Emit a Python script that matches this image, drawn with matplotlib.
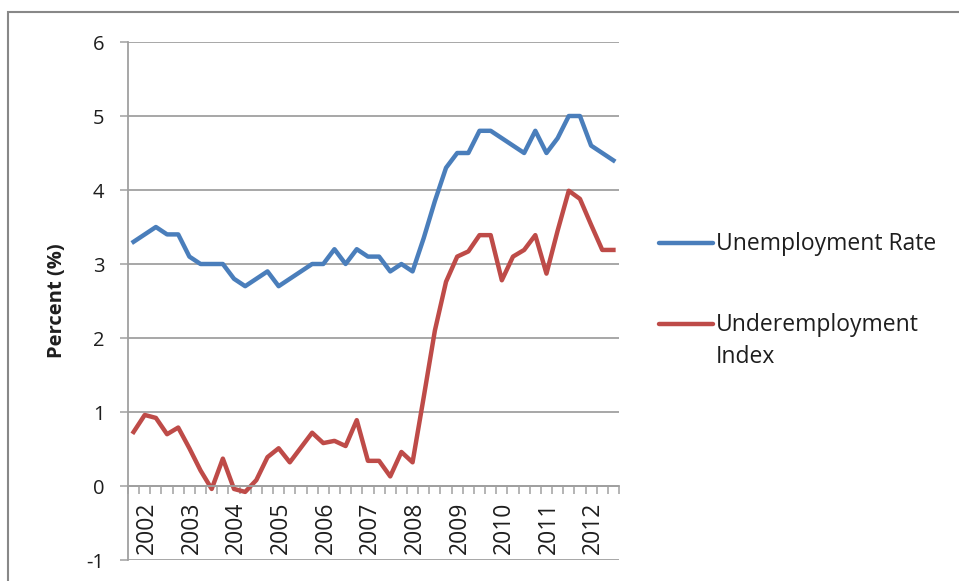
import numpy as np
import matplotlib
matplotlib.use("Agg")
import matplotlib.pyplot as plt
from matplotlib.lines import Line2D
from matplotlib.patches import Rectangle

# quarterly data, 2001Q4 .. 2012Q3
unemployment = [3.3, 3.4, 3.5, 3.4, 3.4, 3.1, 3.0, 3.0, 3.0, 2.8, 2.7,
                2.8, 2.9, 2.7, 2.8, 2.9, 3.0, 3.0, 3.2, 3.0, 3.2, 3.1,
                3.1, 2.9, 3.0, 2.9, 3.35, 3.85, 4.3, 4.5, 4.5, 4.8, 4.8,
                4.7, 4.6, 4.5, 4.8, 4.5, 4.7, 5.0, 5.0, 4.6, 4.5, 4.4]
underemployment = [0.73, 0.96, 0.92, 0.70, 0.79, 0.51, 0.21, -0.04, 0.37,
                   -0.04, -0.08, 0.08, 0.39, 0.51, 0.32, 0.52, 0.72, 0.58,
                   0.61, 0.54, 0.89, 0.34, 0.34, 0.13, 0.46, 0.32, 1.2,
                   2.1, 2.76, 3.1, 3.17, 3.39, 3.39, 2.78, 3.1, 3.19, 3.39,
                   2.87, 3.45, 3.99, 3.88, 3.53, 3.19, 3.19]
years = [str(y) for y in range(2002, 2013)]
year_pos = [1 + 4 * k for k in range(len(years))]  # Q1 of each year

blue = "#4a7ebb"
red = "#be4b48"
grid_col = "#a0a0a0"
txt_col = "#1e1e1e"

plt.rcParams['font.family'] = ['Open Sans', 'DejaVu Sans']
plt.rcParams['axes.unicode_minus'] = False

fig = plt.figure(figsize=(9.59, 5.81), dpi=100)
ax = fig.add_axes([128 / 959, 1 - 560 / 581, 491 / 959, 518 / 581])

x = np.arange(len(unemployment)) + 0.5
ax.plot(x, unemployment, color=blue, lw=3.2, solid_joinstyle='round')
ax.plot(x, underemployment, color=red, lw=3.2, solid_joinstyle='round')

ax.set_xlim(0, len(unemployment))
ax.set_ylim(-1, 6)
ax.set_yticks(range(-1, 7))
ax.yaxis.grid(True, color=grid_col, lw=1.3)
ax.set_axisbelow(True)

for s in ['top', 'right']:
    ax.spines[s].set_visible(False)
ax.spines['left'].set_color(grid_col)
ax.spines['left'].set_linewidth(1.3)
ax.spines['bottom'].set_position(('data', 0))
ax.spines['bottom'].set_color(grid_col)
ax.spines['bottom'].set_linewidth(1.3)

ax.tick_params(axis='y', direction='out', length=6, width=1.1, color=grid_col,
               labelsize=14.5, pad=11, labelcolor=txt_col)
ax.set_xticks(range(len(unemployment) + 1))
ax.set_xticklabels([])
ax.tick_params(axis='x', which='major', direction='out', length=6, width=1.1,
               color=grid_col)
ax.set_xticks([p + 0.7 for p in year_pos], minor=True)
ax.set_xticklabels(years, minor=True, rotation=90, fontsize=16.5,
                   color=txt_col)
ax.tick_params(axis='x', which='minor', length=0, pad=11)

ax.set_ylabel('Percent (%)', fontsize=14.5, fontweight='bold', labelpad=14,
              color=txt_col)

# legend
fig.add_artist(Line2D([659 / 959, 713 / 959], [1 - 243 / 581] * 2, color=blue,
                      lw=3.2, solid_capstyle='round'))
fig.add_artist(Line2D([659 / 959, 713 / 959], [1 - 324 / 581] * 2, color=red,
                      lw=3.2, solid_capstyle='round'))
fig.text(716 / 959, 1 - 244 / 581, 'Unemployment Rate', fontsize=16.5,
         va='center', color=txt_col)
fig.text(716 / 959, 1 - 325 / 581, 'Underemployment', fontsize=16.5,
         va='center', color=txt_col)
fig.text(716 / 959, 1 - 357 / 581, 'Index', fontsize=16.5,
         va='center', color=txt_col)

# chart area border
fig.add_artist(Rectangle((8 / 959, -0.1), 1.1, 1 - 12 / 581 + 0.1,
                         transform=fig.transFigure, fill=False,
                         edgecolor='#888888', lw=1.5))

fig.savefig('out.png', dpi=100)
